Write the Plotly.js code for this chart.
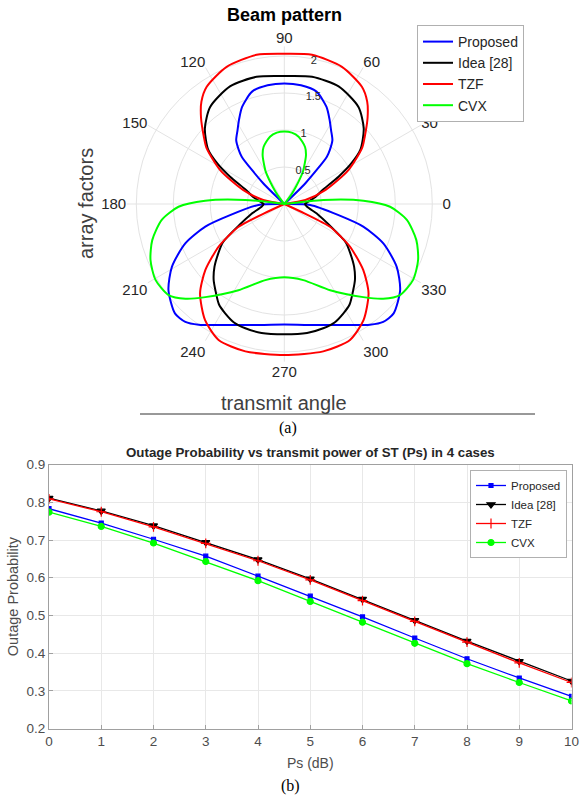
<!DOCTYPE html>
<html><head><meta charset="utf-8">
<script src="https://cdn.plot.ly/plotly-3.0.1.min.js"></script>
<style>html,body{margin:0;padding:0;background:#fff}#chart{width:580px;height:798px}</style>
</head><body><div id="chart"></div>
<script>
// ---- (a) Beam pattern: angle (deg) / array factor readings ----
const thetaProposed = [2, 42, 44.5, 48, 50, 53, 57.6, 62, 66.5, 74, 82, 90, 98, 106, 113.5, 118, 122.4, 127, 130, 132, 135.5, 138, 178, 182.2, 191.5, 196, 201.7, 209.2, 216.6, 225, 230, 234.7, 240, 246, 252, 260, 270, 280, 288, 294, 300, 305.3, 310, 315, 323.4, 330.8, 338.3, 344, 348.5, 357.8, 362];
const rProposed = [0, 0, 0.40, 0.86, 0.96, 1.08, 1.18, 1.30, 1.43, 1.58, 1.62, 1.63, 1.62, 1.58, 1.43, 1.30, 1.18, 1.08, 0.96, 0.86, 0.40, 0, 0, 0.35, 0.74, 1.11, 1.44, 1.74, 1.95, 2.09, 2.08, 2.0, 1.89, 1.79, 1.72, 1.66, 1.63, 1.66, 1.72, 1.79, 1.89, 2.0, 2.08, 2.09, 1.95, 1.74, 1.44, 1.11, 0.74, 0.35, 0];

const thetaIdea = [0, 3, 12, 20.4, 26.7, 31, 35.4, 43.5, 52.6, 65.2, 77.7, 90, 102.3, 114.8, 127.4, 136.5, 144.6, 149, 153.3, 159.6, 168, 177, 180, 187, 197, 205, 212, 217, 222, 227, 231.3, 237, 241.6, 247, 252.6, 260, 270, 280, 287.4, 293, 298.4, 303, 308.7, 313, 318, 323, 328, 335, 343, 353, 360];
const rIdea = [0.28, 0.30, 0.42, 0.56, 0.82, 1.05, 1.26, 1.48, 1.65, 1.75, 1.76, 1.73, 1.76, 1.75, 1.65, 1.48, 1.26, 1.05, 0.82, 0.56, 0.42, 0.30, 0.28, 0.31, 0.47, 0.67, 0.98, 1.12, 1.27, 1.40, 1.49, 1.62, 1.68, 1.74, 1.76, 1.77, 1.76, 1.77, 1.76, 1.74, 1.68, 1.62, 1.49, 1.40, 1.27, 1.12, 0.98, 0.67, 0.47, 0.31, 0.28];

const thetaTZF = [5, 10.8, 18.9, 27.9, 35.9, 40, 46, 51, 56.5, 67.2, 79.5, 90, 100.5, 112.8, 123.5, 129, 134, 140, 144.1, 152.1, 161.1, 169.2, 175, 202, 205, 206.5, 210, 213, 219.9, 226.7, 235.7, 244.2, 255.2, 270, 284.8, 295.8, 304.3, 313.3, 320.1, 327, 330, 333.5, 335, 338, 365];
const rTZF = [0, 0.29, 0.59, 0.98, 1.30, 1.42, 1.62, 1.78, 1.90, 2.01, 2.05, 2.03, 2.05, 2.01, 1.90, 1.78, 1.62, 1.42, 1.30, 0.98, 0.59, 0.29, 0, 0, 0.30, 0.69, 0.88, 1.06, 1.39, 1.66, 1.90, 2.04, 2.06, 2.04, 2.06, 2.04, 1.90, 1.66, 1.39, 1.06, 0.88, 0.69, 0.30, 0, 0];

const thetaCVX = [8, 50, 53, 56, 60, 62, 66, 70, 78, 84, 90, 96, 102, 110, 114, 118, 120, 124, 127, 130, 172, 174.1, 177.6, 181.5, 187.4, 195.3, 202.7, 210.5, 218.2, 223.8, 229.7, 242, 256, 270, 284, 298, 310.3, 316.2, 321.8, 329.5, 337.3, 344.7, 352.6, 358.5, 362.4, 365.9, 368];
const rCVX = [0, 0, 0.15, 0.28, 0.50, 0.57, 0.72, 0.82, 0.93, 0.97, 0.98, 0.97, 0.93, 0.82, 0.72, 0.57, 0.50, 0.28, 0.15, 0, 0, 0.53, 1.07, 1.43, 1.67, 1.85, 1.96, 2.02, 1.99, 1.85, 1.65, 1.32, 1.06, 0.99, 1.06, 1.32, 1.65, 1.85, 1.99, 2.02, 1.96, 1.85, 1.67, 1.43, 1.07, 0.53, 0];

const angleTicks = [0, 30, 60, 90, 120, 150, 180, 210, 240, 270, 300, 330];
const angleTickText = ['0', '30', '60', '90', '120', '150', '180', '210', '240', '270', '300', '330'];
const radialTicks = [0.5, 1, 1.5, 2];
const radialTickText = ['0.5', '1', '1.5', '2'];

// ---- (b) Outage probability ----
const ps = [0, 1, 2, 3, 4, 5, 6, 7, 8, 9, 10];
const outProposed = [0.783, 0.745, 0.702, 0.657, 0.604, 0.551, 0.496, 0.440, 0.385, 0.334, 0.285];
const outIdea = [0.811, 0.777, 0.738, 0.694, 0.648, 0.597, 0.543, 0.487, 0.432, 0.378, 0.326];
const outTZF = [0.809, 0.775, 0.735, 0.691, 0.645, 0.594, 0.539, 0.484, 0.429, 0.374, 0.322];
const outCVX = [0.774, 0.736, 0.692, 0.643, 0.592, 0.537, 0.482, 0.426, 0.372, 0.322, 0.273];

const seriesNames = ['Proposed', 'Idea [28]', 'TZF', 'CVX'];
const colors = ['#0000ff', '#000000', '#ff0000', '#00ff00'];

const W = 580, H = 798;
const FONT = 'Liberation Sans, Arial, Helvetica, sans-serif';
const SERIF = 'Liberation Serif, Times New Roman, serif';

const polarTheta = [thetaProposed, thetaIdea, thetaTZF, thetaCVX];
const polarR = [rProposed, rIdea, rTZF, rCVX];
const outs = [outProposed, outIdea, outTZF, outCVX];
const symbols = ['square', 'triangle-down', 'cross-thin-open', 'circle'];
const msizes = [4, 7, 7, 6];

const traces = [];
for (let i = 0; i < 4; i++) {
  traces.push({
    type: 'scatterpolar', subplot: 'polar', mode: 'lines',
    theta: polarTheta[i], r: polarR[i], name: seriesNames[i],
    line: {color: colors[i], width: 2, shape: 'spline', smoothing: 0.7},
    legend: 'legend', hoverinfo: 'skip'
  });
}
for (let i = 0; i < 4; i++) {
  traces.push({
    type: 'scatter', mode: 'lines+markers', x: ps, y: outs[i], name: seriesNames[i],
    xaxis: 'x', yaxis: 'y', legend: 'legend2',
    line: {color: colors[i], width: 1.3},
    marker: {color: colors[i], symbol: symbols[i], size: msizes[i], line: {color: colors[i], width: 1.2}}
  });
}

const px = v => v / W, py = v => 1 - v / H;
const cx = 284.3, cy = 204, pxu = 74, rmax = 2.13, R = rmax * pxu;

const ann = (text, x, y, size, color, family, extra) => Object.assign({
  text, x: px(x), y: py(y), xref: 'paper', yref: 'paper', showarrow: false,
  xanchor: 'center', yanchor: 'middle', font: {size, color, family}
}, extra || {});

const layout = {
  width: W, height: H, margin: {l: 0, r: 0, t: 0, b: 0},
  paper_bgcolor: '#fff', plot_bgcolor: '#fff',
  font: {family: FONT, color: '#262626'},
  showlegend: true,
  polar: {
    domain: {x: [px(cx - R), px(cx + R)], y: [py(cy + R), py(cy - R)]},
    bgcolor: '#fff',
    angularaxis: {
      rotation: 0, direction: 'counterclockwise', tickmode: 'array',
      tickvals: angleTicks, ticktext: angleTickText,
      showline: false, showgrid: true, gridcolor: '#e3e3e3', gridwidth: 1,
      ticks: '', tickfont: {size: 15, color: '#262626', family: FONT}
    },
    radialaxis: {
      range: [0, rmax], tickmode: 'array', tickvals: radialTicks, ticktext: radialTickText,
      angle: 82, tickangle: 82, side: 'clockwise', showline: false, ticks: '',
      showgrid: true, gridcolor: '#e3e3e3', gridwidth: 1,
      tickfont: {size: 11, color: '#262626', family: FONT}
    }
  },
  xaxis: {
    domain: [px(49), px(571.5)], anchor: 'y', range: [0, 10], dtick: 1,
    showline: true, mirror: true, linecolor: '#a0a0a0', linewidth: 1,
    ticks: 'inside', ticklen: 4, tickcolor: '#a0a0a0',
    showgrid: true, gridcolor: '#e8e8e8', zeroline: false,
    tickfont: {size: 13.5, color: '#4d4d4d'},
    title: {text: 'Ps (dB)', font: {size: 14, color: '#4d4d4d'}, standoff: 10}
  },
  yaxis: {
    domain: [py(728.5), py(464.6)], anchor: 'x', range: [0.2, 0.9], dtick: 0.1, tickformat: '.1f',
    showline: true, mirror: true, linecolor: '#a0a0a0', linewidth: 1,
    ticks: 'inside', ticklen: 4, tickcolor: '#a0a0a0',
    showgrid: true, gridcolor: '#e8e8e8', zeroline: false,
    tickfont: {size: 13.5, color: '#4d4d4d'},
    title: {text: 'Outage Probability', font: {size: 14.5, color: '#4d4d4d'}, standoff: 4}
  },
  legend: {
    x: px(417), y: py(25), xanchor: 'left', yanchor: 'top',
    bgcolor: '#fff', bordercolor: '#b0b0b0', borderwidth: 1,
    font: {size: 14, color: '#262626', family: FONT}, itemwidth: 30, tracegroupgap: 0
  },
  legend2: {
    x: px(567), y: py(470), xanchor: 'right', yanchor: 'top',
    bgcolor: '#fff', bordercolor: '#b0b0b0', borderwidth: 1,
    font: {size: 11.5, color: '#262626', family: FONT}, itemwidth: 30, tracegroupgap: 0
  },
  shapes: [
    {type: 'line', xref: 'paper', yref: 'paper', x0: px(140), x1: px(535), y0: py(414), y1: py(414),
     line: {color: '#333', width: 1}}
  ],
  annotations: [
    ann('<b>Beam pattern</b>', 284, 15, 18, '#000', FONT),
    ann('array factors', 86, 204, 20, '#404040', FONT, {textangle: -90}),
    ann('transmit angle', 284, 403, 20, '#404040', FONT),
    ann('(a)', 288, 428, 16, '#000', SERIF),
    ann('<b>Outage Probability vs transmit power of ST (Ps) in 4 cases</b>', 310, 452, 13.3, '#262626', FONT),
    ann('(b)', 290, 786, 16, '#000', SERIF)
  ]
};

Plotly.newPlot('chart', traces, layout, {displayModeBar: false, staticPlot: true});
</script></body></html>
